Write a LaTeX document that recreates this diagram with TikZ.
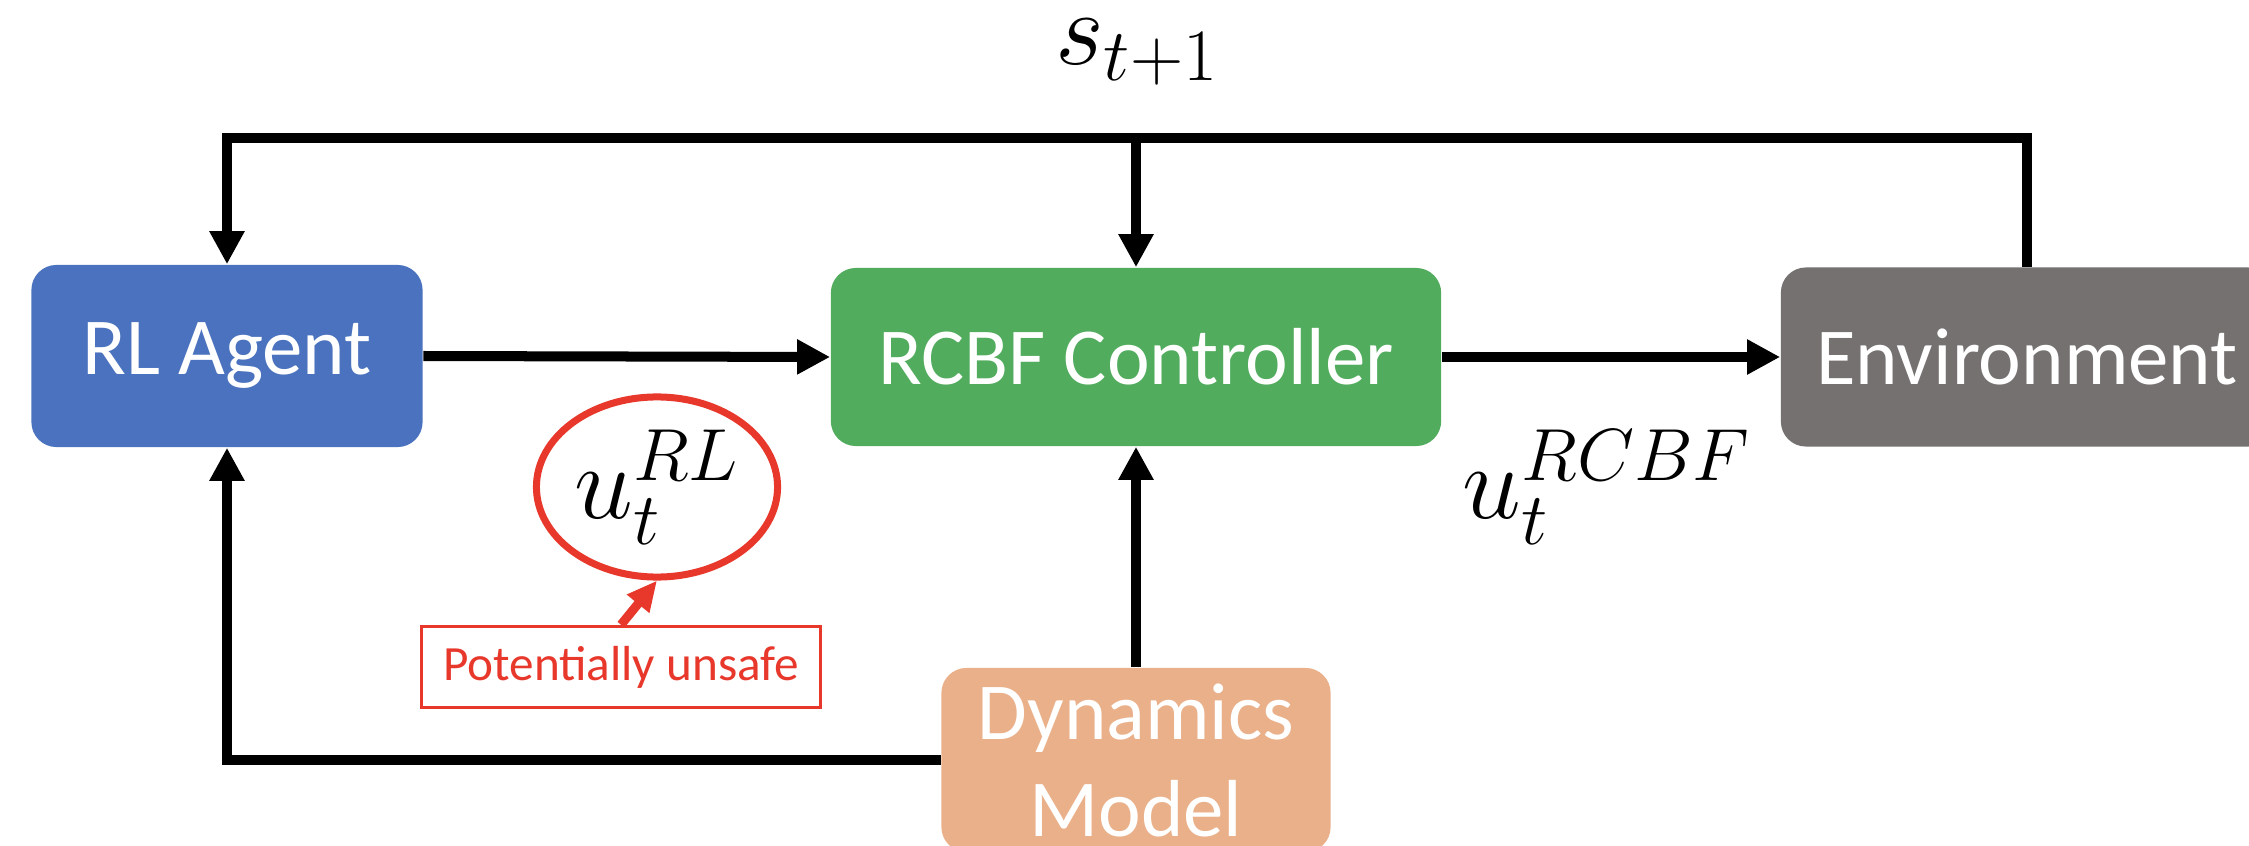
\RequirePackage{fix-cm}
\documentclass[tikz,border=0pt]{standalone}
\usepackage[no-math]{fontspec}
\newfontfamily\calib{Carlito}
\usetikzlibrary{arrows.meta,shapes.geometric}
\definecolor{agentblue}{HTML}{4A72BE}
\definecolor{ctrlgreen}{HTML}{52AC5E}
\definecolor{envgray}{HTML}{767171}
\definecolor{dynorange}{HTML}{EAB089}
\definecolor{warnred}{HTML}{E8382C}
\tikzset{
  box/.style={rounded corners=0.25cm, inner sep=0pt, text=white,
    font=\calib\fontsize{23}{27.6}\selectfont, align=center},
  conn/.style={line width=0.1cm, -{Triangle[length=0.33cm,width=0.33cm]}},
  mathlbl/.style={inner sep=0pt, font=\fontsize{30}{34}\selectfont},
}
\begin{document}
\begin{tikzpicture}[x=0.01cm,y=-0.01cm]
\useasboundingbox (0,0) rectangle (2249,846);
\clip (0,0) rectangle (2249,846);
\fill[white] (0,0) rectangle (2249,846);
% boxes
\node[box, fill=agentblue, minimum width=3.91cm, minimum height=1.82cm] (rl) at (227,356) {RL Agent};
\node[box, fill=ctrlgreen, minimum width=6.10cm, minimum height=1.78cm] (rcbf) at (1136,357) {RCBF Controller};
\node[box, fill=envgray, minimum width=4.92cm, minimum height=1.79cm] (env) at (2027,357) {Environment};
\node[box, fill=dynorange, minimum width=3.89cm, minimum height=1.84cm] (dyn) at (1136,760) {Dynamics\\Model};
% labels
\node[mathlbl] (s) at (1137,52) {$s_{t+1}$};
\node[mathlbl] (urcbf) at (1607,487) {$u_t^{RCBF}$};
\node[ellipse, draw=warnred, line width=0.07cm, minimum width=2.41cm, minimum height=1.80cm, inner sep=0pt, font=\fontsize{30}{34}\selectfont] (url) at (657,487) {$u_t^{RL}$};
\node[draw=warnred, line width=0.035cm, minimum width=3.99cm, minimum height=0.81cm, inner sep=0pt, text=warnred, font=\calib\fontsize{14}{16}\selectfont] (unsafe) at (621,667) {Potentially unsafe};
% coordinates of the top feedback bus
\coordinate (topl) at (227,138);
\coordinate (topm) at (1136,138);
% connectors
\draw[conn] (rl.east) -- (rcbf.west);
\draw[conn] (rcbf.east) -- (env.west);
\draw[conn] (env.north) -- (env.north |- topl) -- (topl) -- (rl.north);
\draw[conn] (topm) -- (rcbf.north);
\draw[conn] (dyn.north) -- (rcbf.south);
\draw[conn] (dyn.west) -| (rl.south);
\draw[warnred, line width=0.09cm, -{Triangle[length=0.3cm,width=0.27cm]}] (unsafe.north) -- (url.south);
\end{tikzpicture}
\end{document}
